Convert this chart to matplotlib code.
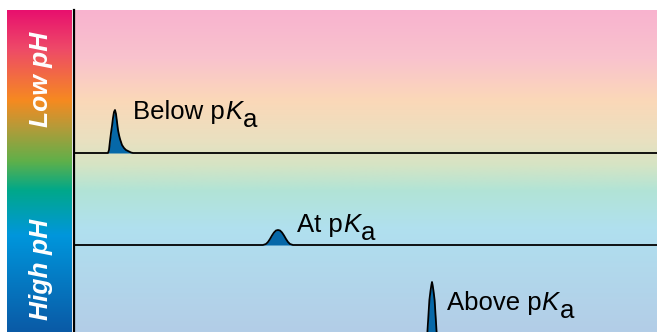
"""
Schematic: retention of an ionisable analyte vs mobile-phase pH.
Three chromatogram traces (below / at / above pKa) on a pH-gradient backdrop.
"""

import numpy as np
import matplotlib
matplotlib.use("Agg")
import matplotlib.pyplot as plt
from matplotlib.colors import LinearSegmentedColormap

# ============================ DATA ============================
# x: retention (arbitrary units), y: detector signal (arbitrary units)
X_RANGE      = (0, 583)
Y_RANGE      = (0, 322)
TRACE_LABELS = ["Below p", "At p", "Above p"]
BASELINES    = [179, 87, -28]      # vertical offset of each trace
PEAK_APEX    = [41, 204, 358]      # retention of each peak apex

# peak profiles: offset from apex, signal above baseline
PEAK1_DX = [-7, -6, -5, -4, -3, -2, -1, 0, 1, 2, 3, 4, 5, 6, 7, 9, 11, 13, 16, 18]
PEAK1_H  = [0, 3, 12, 20, 27, 35, 41, 43, 39, 31, 23, 18, 14, 11, 8, 5, 3, 2, 0.5, 0]

PEAK2_DX = [-15, -12, -10, -8, -6, -4, -2, 0, 2, 4, 6, 8, 10, 12, 15]
PEAK2_H  = [0, 1, 3, 6, 9.5, 12.5, 14.5, 15, 14.5, 12.5, 9.5, 6, 3, 1, 0]

PEAK3_DX = [-14, -10, -7, -5.5, -4.6, -3.6, -2.6, -1.5, -0.6, 0,
            0.6, 1.5, 2.6, 3.6, 4.6, 5.5, 7, 10, 14]
PEAK3_H  = [0, 2, 8, 16, 28, 44, 60, 69, 75, 78,
            75, 69, 60, 44, 28, 16, 8, 2, 0]

PH_LABELS = ["Low pH", "High pH"]
# ==============================================================

FIG_W, FIG_H, DPI = 657, 332, 100
PEAK_COLOR = "#0668a8"

BAR_COLORS = [(0.00, "#0a5aa6"), (0.30, "#0096dc"), (0.44, "#00a88a"),
              (0.53, "#5fb04a"), (0.64, "#b89a38"), (0.72, "#f68a20"),
              (0.88, "#ee4a68"), (1.00, "#e8106e")]
BG_COLORS = [(0.00, "#b3cde7"), (0.32, "#b0e0ef"), (0.44, "#b2e4d6"),
             (0.52, "#d6e4c4"), (0.60, "#eae0c0"), (0.72, "#fbd8b8"),
             (0.85, "#f9c3cd"), (1.00, "#f8b3cf")]


def gradient(ax, stops):
    cmap = LinearSegmentedColormap.from_list("g", stops)
    grad = np.linspace(0, 1, 256).reshape(-1, 1)
    ax.imshow(grad, cmap=cmap, aspect="auto", origin="lower",
              extent=[0, 1, 0, 1], transform=ax.transAxes, zorder=0)


def pka_label(ax, x, y, prefix):
    """prefix + italic K + full-size lowered 'a'."""
    fp = dict(fontsize=18.5, family="Liberation Sans", color="black")
    t1 = ax.text(x, y, prefix, ha="left", va="baseline", zorder=5, **fp)
    t2 = ax.annotate("K", xy=(1, 0), xycoords=t1, ha="left", va="bottom",
                     style="italic", zorder=5, **fp)
    ax.annotate("a", xy=(1, 0), xycoords=t2, xytext=(0.5, -5.5),
                textcoords="offset points", ha="left", va="bottom",
                zorder=5, **fp)


def main():
    fig = plt.figure(figsize=(FIG_W / DPI, FIG_H / DPI), dpi=DPI)
    top = (FIG_H - 10) / FIG_H

    # ---------- pH bar ----------
    bar = fig.add_axes([7 / FIG_W, 0, 65 / FIG_W, top])
    gradient(bar, BAR_COLORS)
    bar.set_axis_off()
    for lab, yc in zip(PH_LABELS, [0.783, 0.193]):
        bar.text(0.52, yc, lab, transform=bar.transAxes, rotation=90,
                 ha="center", va="center", color="white", fontsize=19,
                 family="Liberation Sans", weight="bold", style="italic")

    # ---------- traces ----------
    ax = fig.add_axes([74 / FIG_W, 0, (FIG_W - 74) / FIG_W, top])
    gradient(ax, BG_COLORS)
    ax.set_xlim(*X_RANGE)
    ax.set_ylim(*Y_RANGE)
    for side in ["top", "right", "bottom"]:
        ax.spines[side].set_visible(False)
    ax.spines["left"].set_linewidth(1.6)
    ax.set_xticks([])
    ax.set_yticks([])

    profiles = [(PEAK1_DX, PEAK1_H), (PEAK2_DX, PEAK2_H), (PEAK3_DX, PEAK3_H)]
    label_shift = [(18, 34), (19, 13), (15, 50)]
    for k, (dx, h) in enumerate(profiles):
        base = BASELINES[k]
        px = PEAK_APEX[k] + np.array(dx, dtype=float)
        py = base + np.array(h, dtype=float)
        xs = np.concatenate([[X_RANGE[0]], px, [X_RANGE[1]]])
        ys = np.concatenate([[base], py, [base]])
        ax.fill_between(px, base, py, color=PEAK_COLOR, lw=0, zorder=2)
        ax.plot(xs, ys, color="black", lw=1.3, solid_joinstyle="round", zorder=3)
        sx, sy = label_shift[k]
        pka_label(ax, PEAK_APEX[k] + sx, base + sy, TRACE_LABELS[k])

    fig.savefig("out.png", dpi=DPI, facecolor="white")
    plt.close(fig)


if __name__ == "__main__":
    main()
